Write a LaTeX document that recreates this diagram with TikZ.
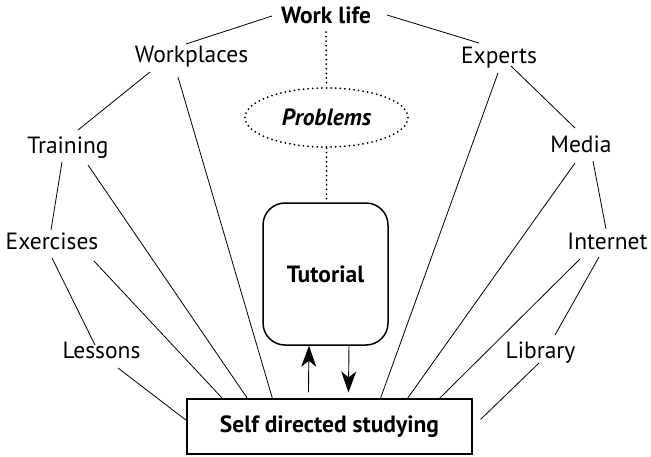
\documentclass[tikz,border=0pt]{standalone}
\usepackage{fontspec}
\setmainfont{PT Sans}
\usetikzlibrary{shapes.geometric,arrows.meta,calc}
\begin{document}
\begin{tikzpicture}[x=1pt,y=-1pt,
  fnt/.style={font=\fontsize{23.5}{27}\selectfont},
  lbl/.style={fnt, inner sep=0pt, anchor=base},
  conn/.style={line width=0.8pt},
  dots/.style={line width=2pt, dash pattern=on 0pt off 4.6pt, line cap=round},
  arr/.style={line width=0.9pt, arrows={-Stealth[length=21pt,width=15pt,inset=6pt]}}]
\useasboundingbox (0,0) rectangle (651,456);
% text nodes
\node[lbl, font=\fontsize{23.5}{27}\selectfont\bfseries] (wl) at (326,23) {Work life};
\node[lbl] (wp) at (191.5,62) {Workplaces};
\node[lbl] (ex) at (499,63) {Experts};
\node[lbl] (tr) at (68,153) {Training};
\node[lbl] (exc) at (52,249) {Exercises};
\node[lbl] (le) at (101.5,358) {Lessons};
\node[lbl] (me) at (581,152) {Media};
\node[lbl] (in) at (607.5,249) {Internet};
\node[lbl] (li) at (540.5,358) {Library};
% problems ellipse
\node[ellipse, draw, dots, minimum width=163pt, minimum height=59pt, inner sep=0pt,
      font=\fontsize{23.5}{27}\selectfont\bfseries\itshape] (prob) at (326.5,117.5) {Problems};
% tutorial
\node[draw, line width=1.5pt, rounded corners=22pt, minimum width=125pt, minimum height=142pt,
      inner sep=0pt, font=\fontsize{23.5}{27}\selectfont\bfseries] (tut) at (325.5,274) {Tutorial};
% self directed studying
\node[draw, line width=1.1pt, minimum width=285pt, minimum height=55pt, inner sep=0pt,
      font=\fontsize{23.5}{27}\selectfont\bfseries] (sds) at (329.5,426.5) {Self directed studying};
% dotted connectors
\draw[dots] ($(wl.base)+(0,9)$) -- (prob.north);
\draw[dots] (prob.south) -- (prob.south |- tut.north);
% solid connectors
\draw[conn] ($(wl.base)+(-54,-7)$) -- ($(wp.base)+(-5.5,-18)$);
\draw[conn] ($(wl.base)+(61,-8)$) -- ($(ex.base)+(-20,-20)$);
\draw[conn] ($(wp.base)+(-41.5,10)$) -- ($(tr.base)+(10,-23)$);
\draw[conn] ($(wp.base)+(-13.5,15)$) -- ($(sds.north west)+(86,0)$);
\draw[conn] ($(ex.base)+(12,3)$) -- ($(me.base)+(-6,-24)$);
\draw[conn] ($(ex.base)+(-1,10)$) -- ($(sds.north west)+(194,0)$);
\draw[conn] ($(tr.base)+(-6,9)$) -- ($(exc.base)+(-1,-19)$);
\draw[conn] ($(tr.base)+(20,12)$) -- ($(sds.north west)+(61,0)$);
\draw[conn] ($(exc.base)+(0,9)$) -- ($(le.base)+(-6.5,-13)$);
\draw[conn] ($(exc.base)+(42,12)$) -- ($(sds.north west)+(36,0)$);
\draw[conn] ($(le.base)+(16.5,10)$) -- ($(sds.north west)+(0,22)$);
\draw[conn] ($(me.base)+(12,9)$) -- ($(in.base)+(-1.5,-20)$);
\draw[conn] ($(me.base)+(-6,11)$) -- ($(sds.north west)+(221,0)$);
\draw[conn] ($(in.base)+(-8.5,8)$) -- ($(li.base)+(14.5,-23)$);
\draw[conn] ($(in.base)+(-27.5,10)$) -- ($(sds.north west)+(253,0)$);
\draw[conn] ($(li.base)+(-1.5,5)$) -- ($(sds.north east)+(8,21)$);
% arrows
\draw[arr] ($(sds.north west)+(122,-6)$) -- ($(tut.south)+(-16.5,0)$);
\draw[arr] ($(tut.south)+(23.5,0)$) -- ($(sds.north west)+(162,-6)$);
\end{tikzpicture}
\end{document}
